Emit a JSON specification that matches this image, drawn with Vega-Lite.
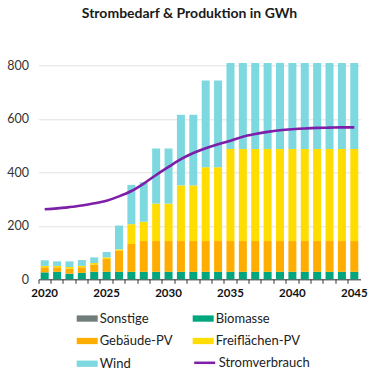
{
  "$schema": "https://vega.github.io/schema/vega-lite/v6.json",
  "width": 322,
  "height": 214,
  "autosize": {"type": "none"},
  "padding": {"left": 38.5, "top": 65.3, "right": 19.5, "bottom": 100.7},
  "background": "white",
  "title": {"text": "Strombedarf & Produktion in GWh", "font": "Lato", "fontSize": 14, "fontWeight": "bold", "color": "#1a1a1a", "anchor": "middle", "offset": 38, "dx": -10},
  "config": {"view": {"stroke": null}, "font": "Lato"},
  "datasets": {
    "types": [
      {"type": "Sonstige", "rank": 0}, {"type": "Biomasse", "rank": 1}, {"type": "Gebäude-PV", "rank": 2}, {"type": "Freiflächen-PV", "rank": 3}, {"type": "Wind", "rank": 4}
    ],
    "prod": [
      {"year": 2020, "type": "Biomasse", "value": 26}, {"year": 2020, "type": "Gebäude-PV", "value": 19}, {"year": 2020, "type": "Freiflächen-PV", "value": 5}, {"year": 2020, "type": "Wind", "value": 21},
      {"year": 2021, "type": "Biomasse", "value": 28}, {"year": 2021, "type": "Gebäude-PV", "value": 17}, {"year": 2021, "type": "Freiflächen-PV", "value": 5}, {"year": 2021, "type": "Wind", "value": 17},
      {"year": 2022, "type": "Biomasse", "value": 21}, {"year": 2022, "type": "Gebäude-PV", "value": 19}, {"year": 2022, "type": "Freiflächen-PV", "value": 6}, {"year": 2022, "type": "Wind", "value": 21},
      {"year": 2023, "type": "Biomasse", "value": 24}, {"year": 2023, "type": "Gebäude-PV", "value": 21}, {"year": 2023, "type": "Freiflächen-PV", "value": 5}, {"year": 2023, "type": "Wind", "value": 22},
      {"year": 2024, "type": "Biomasse", "value": 28}, {"year": 2024, "type": "Gebäude-PV", "value": 27}, {"year": 2024, "type": "Freiflächen-PV", "value": 6}, {"year": 2024, "type": "Wind", "value": 21},
      {"year": 2025, "type": "Biomasse", "value": 28}, {"year": 2025, "type": "Gebäude-PV", "value": 48}, {"year": 2025, "type": "Freiflächen-PV", "value": 6}, {"year": 2025, "type": "Wind", "value": 20},
      {"year": 2026, "type": "Biomasse", "value": 28}, {"year": 2026, "type": "Gebäude-PV", "value": 79}, {"year": 2026, "type": "Freiflächen-PV", "value": 5}, {"year": 2026, "type": "Wind", "value": 89},
      {"year": 2027, "type": "Biomasse", "value": 28}, {"year": 2027, "type": "Gebäude-PV", "value": 104}, {"year": 2027, "type": "Freiflächen-PV", "value": 74}, {"year": 2027, "type": "Wind", "value": 147},
      {"year": 2028, "type": "Biomasse", "value": 28}, {"year": 2028, "type": "Gebäude-PV", "value": 115}, {"year": 2028, "type": "Freiflächen-PV", "value": 72}, {"year": 2028, "type": "Wind", "value": 148},
      {"year": 2029, "type": "Biomasse", "value": 28}, {"year": 2029, "type": "Gebäude-PV", "value": 115}, {"year": 2029, "type": "Freiflächen-PV", "value": 140}, {"year": 2029, "type": "Wind", "value": 206},
      {"year": 2030, "type": "Biomasse", "value": 28}, {"year": 2030, "type": "Gebäude-PV", "value": 115}, {"year": 2030, "type": "Freiflächen-PV", "value": 140}, {"year": 2030, "type": "Wind", "value": 206},
      {"year": 2031, "type": "Biomasse", "value": 28}, {"year": 2031, "type": "Gebäude-PV", "value": 115}, {"year": 2031, "type": "Freiflächen-PV", "value": 208}, {"year": 2031, "type": "Wind", "value": 264},
      {"year": 2032, "type": "Biomasse", "value": 28}, {"year": 2032, "type": "Gebäude-PV", "value": 115}, {"year": 2032, "type": "Freiflächen-PV", "value": 208}, {"year": 2032, "type": "Wind", "value": 264},
      {"year": 2033, "type": "Biomasse", "value": 28}, {"year": 2033, "type": "Gebäude-PV", "value": 115}, {"year": 2033, "type": "Freiflächen-PV", "value": 276}, {"year": 2033, "type": "Wind", "value": 324},
      {"year": 2034, "type": "Biomasse", "value": 28}, {"year": 2034, "type": "Gebäude-PV", "value": 115}, {"year": 2034, "type": "Freiflächen-PV", "value": 276}, {"year": 2034, "type": "Wind", "value": 324},
      {"year": 2035, "type": "Biomasse", "value": 28}, {"year": 2035, "type": "Gebäude-PV", "value": 115}, {"year": 2035, "type": "Freiflächen-PV", "value": 344}, {"year": 2035, "type": "Wind", "value": 322},
      {"year": 2036, "type": "Biomasse", "value": 28}, {"year": 2036, "type": "Gebäude-PV", "value": 115}, {"year": 2036, "type": "Freiflächen-PV", "value": 344}, {"year": 2036, "type": "Wind", "value": 322},
      {"year": 2037, "type": "Biomasse", "value": 28}, {"year": 2037, "type": "Gebäude-PV", "value": 115}, {"year": 2037, "type": "Freiflächen-PV", "value": 344}, {"year": 2037, "type": "Wind", "value": 322},
      {"year": 2038, "type": "Biomasse", "value": 28}, {"year": 2038, "type": "Gebäude-PV", "value": 115}, {"year": 2038, "type": "Freiflächen-PV", "value": 344}, {"year": 2038, "type": "Wind", "value": 322},
      {"year": 2039, "type": "Biomasse", "value": 28}, {"year": 2039, "type": "Gebäude-PV", "value": 115}, {"year": 2039, "type": "Freiflächen-PV", "value": 344}, {"year": 2039, "type": "Wind", "value": 322},
      {"year": 2040, "type": "Biomasse", "value": 28}, {"year": 2040, "type": "Gebäude-PV", "value": 115}, {"year": 2040, "type": "Freiflächen-PV", "value": 344}, {"year": 2040, "type": "Wind", "value": 322},
      {"year": 2041, "type": "Biomasse", "value": 28}, {"year": 2041, "type": "Gebäude-PV", "value": 115}, {"year": 2041, "type": "Freiflächen-PV", "value": 344}, {"year": 2041, "type": "Wind", "value": 322},
      {"year": 2042, "type": "Biomasse", "value": 28}, {"year": 2042, "type": "Gebäude-PV", "value": 115}, {"year": 2042, "type": "Freiflächen-PV", "value": 344}, {"year": 2042, "type": "Wind", "value": 322},
      {"year": 2043, "type": "Biomasse", "value": 28}, {"year": 2043, "type": "Gebäude-PV", "value": 115}, {"year": 2043, "type": "Freiflächen-PV", "value": 344}, {"year": 2043, "type": "Wind", "value": 322},
      {"year": 2044, "type": "Biomasse", "value": 28}, {"year": 2044, "type": "Gebäude-PV", "value": 115}, {"year": 2044, "type": "Freiflächen-PV", "value": 344}, {"year": 2044, "type": "Wind", "value": 322},
      {"year": 2045, "type": "Biomasse", "value": 28}, {"year": 2045, "type": "Gebäude-PV", "value": 115}, {"year": 2045, "type": "Freiflächen-PV", "value": 344}, {"year": 2045, "type": "Wind", "value": 322}
    ],
    "demand": [
      {"year": 2020, "series": "Stromverbrauch", "value": 262}, {"year": 2021, "series": "Stromverbrauch", "value": 265}, {"year": 2022, "series": "Stromverbrauch", "value": 270}, {"year": 2023, "series": "Stromverbrauch", "value": 276},
      {"year": 2024, "series": "Stromverbrauch", "value": 284}, {"year": 2025, "series": "Stromverbrauch", "value": 294}, {"year": 2026, "series": "Stromverbrauch", "value": 310}, {"year": 2027, "series": "Stromverbrauch", "value": 330},
      {"year": 2028, "series": "Stromverbrauch", "value": 358}, {"year": 2029, "series": "Stromverbrauch", "value": 390}, {"year": 2030, "series": "Stromverbrauch", "value": 420}, {"year": 2031, "series": "Stromverbrauch", "value": 449},
      {"year": 2032, "series": "Stromverbrauch", "value": 472}, {"year": 2033, "series": "Stromverbrauch", "value": 490}, {"year": 2034, "series": "Stromverbrauch", "value": 505}, {"year": 2035, "series": "Stromverbrauch", "value": 518},
      {"year": 2036, "series": "Stromverbrauch", "value": 533}, {"year": 2037, "series": "Stromverbrauch", "value": 543}, {"year": 2038, "series": "Stromverbrauch", "value": 551}, {"year": 2039, "series": "Stromverbrauch", "value": 557},
      {"year": 2040, "series": "Stromverbrauch", "value": 561}, {"year": 2041, "series": "Stromverbrauch", "value": 564}, {"year": 2042, "series": "Stromverbrauch", "value": 566}, {"year": 2043, "series": "Stromverbrauch", "value": 567},
      {"year": 2044, "series": "Stromverbrauch", "value": 568}, {"year": 2045, "series": "Stromverbrauch", "value": 568}
    ]
  },
  "resolve": {"scale": {"color": "independent"}, "legend": {"color": "independent"}},
  "layer": [
    {
      "data": {"name": "prod"},
      "transform": [
        {"lookup": "type", "from": {"data": {"name": "types"}, "key": "type", "fields": ["rank"]}}
      ],
      "mark": {"type": "bar", "width": 8},
      "encoding": {
        "x": {
          "field": "year", "type": "ordinal",
          "scale": {"paddingInner": 0, "paddingOuter": 0},
          "axis": {
            "labelExpr": "datum.value % 5 === 0 ? datum.label : ''",
            "bandPosition": 0,
            "labelOffset": 0, "labelAngle": 0,
            "labelFont": "Lato", "labelFontWeight": "bold", "labelFontSize": 11.5, "labelColor": "#111",
            "labelFlush": false, "labelOverlap": false, "labelBound": false, "labelPadding": 4,
            "tickSize": 4, "tickColor": "#333", "domainColor": "#333", "grid": false, "title": null
          }
        },
        "y": {
          "field": "value", "type": "quantitative", "stack": "zero",
          "scale": {"domain": [0, 800], "nice": false},
          "axis": {
            "values": [0, 200, 400, 600, 800],
            "labelFont": "Lato", "labelFontSize": 12.5, "labelColor": "#333", "labelPadding": 10,
            "ticks": false, "domain": false, "grid": true, "gridColor": "#e2e2e2", "title": null
          }
        },
        "order": {"field": "rank", "type": "quantitative", "sort": "ascending"},
        "color": {
          "field": "type", "type": "nominal",
          "scale": {
            "domain": ["Sonstige", "Biomasse", "Gebäude-PV", "Freiflächen-PV", "Wind"],
            "range": ["#717d7a", "#00a67e", "#ffad00", "#ffdd00", "#7dd8e0"]
          },
          "legend": {
            "title": null, "orient": "none", "legendX": 38.2, "legendY": 242.5,
            "direction": "horizontal", "columns": 2, "columnPadding": 20, "rowPadding": 4.7,
            "symbolType": "M-1,-0.3H1V0.3H-1Z", "symbolSize": 441, "symbolStrokeWidth": 0, "symbolOpacity": 1,
            "labelFont": "Lato", "labelFontSize": 13, "labelColor": "#222", "labelOffset": 2
          }
        }
      }
    },
    {
      "data": {"name": "demand"},
      "mark": {"type": "line", "interpolate": "monotone", "strokeWidth": 2.6},
      "encoding": {
        "x": {"field": "year", "type": "ordinal"},
        "y": {"field": "value", "type": "quantitative"},
        "color": {
          "field": "series", "type": "nominal",
          "scale": {"domain": ["Stromverbrauch"], "range": ["#7d1fa8"]},
          "legend": {
            "title": null, "orient": "none", "legendX": 154.2, "legendY": 285.5,
            "symbolType": "stroke", "symbolSize": 441, "symbolStrokeWidth": 2.5,
            "labelFont": "Lato", "labelFontSize": 13, "labelColor": "#222", "labelOffset": 2
          }
        }
      }
    }
  ]
}
